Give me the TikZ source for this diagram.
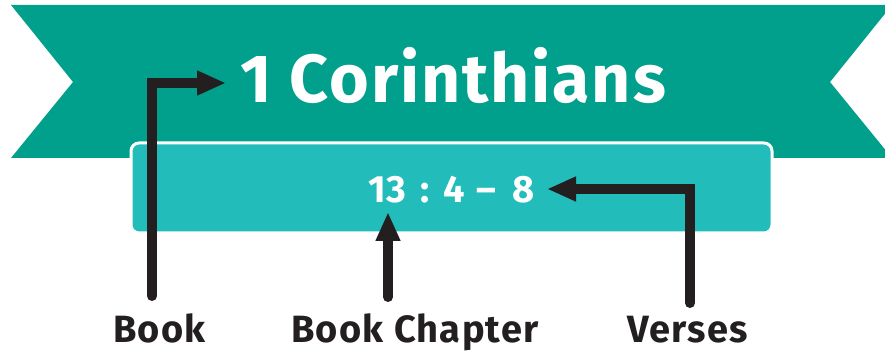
\documentclass[tikz,border=0pt]{standalone}
\usepackage{fontspec}
\setmainfont{Fira Sans}
\usetikzlibrary{arrows.meta}
\definecolor{bannerc}{RGB}{0,160,140}
\definecolor{boxc}{RGB}{34,189,187}
\definecolor{ink}{RGB}{35,31,32}
\tikzset{
  arr/.style={draw=ink, line width=10pt, -{Triangle[length=29pt,width=23pt]}},
  titletxt/.style={white, inner sep=0pt, anchor=base west, font=\bfseries\fontsize{68}{68}\selectfont\addfontfeatures{LetterSpace=2.8}},
  reftxt/.style={white, inner sep=0pt, anchor=base west, font=\bfseries\fontsize{38}{38}\selectfont\addfontfeatures{LetterSpace=2}},
  labeltxt/.style={ink, inner sep=0pt, anchor=base west, font=\bfseries\fontsize{38}{38}\selectfont\addfontfeatures{LetterSpace=3.3}}
}
\begin{document}
\begin{tikzpicture}[x=1pt,y=-1pt]
\useasboundingbox (0,0) rectangle (885,352);
\begin{scope}
\clip (0,0) rectangle (885,352);
\fill[bannerc] (11,5) -- (892,5) -- (830,82) -- (892,158) -- (11,158) -- (73,82) -- cycle;
\end{scope}
\draw[white, line width=3pt, fill=boxc, rounded corners=8pt] (131,143) rectangle (772,233);
\node[titletxt] (title) at (240,103) {1 Corinthians};
\node[reftxt] (ref) at (368,203) {13\hspace{14pt}:\hspace{14pt}4\hspace{12pt}–\hspace{16pt}8};
\node[labeltxt] (bookl) at (113,342) {Book};
\node[labeltxt] (chapl) at (291,342) {Book Chapter};
\node[labeltxt] (versl) at (627,342) {Verses};
\coordinate (bookstart) at (152,296);
\coordinate (booktip) at (226,83);
\coordinate (chapstart) at (388,297);
\coordinate (chaptip) at (388,212);
\coordinate (versstart) at (690,303);
\coordinate (verstip) at (547,189);
\draw[arr, line cap=round] (bookstart) |- (booktip);
\draw[arr, line cap=round] (chapstart) -- (chaptip);
\draw[arr, line cap=round] (versstart) |- (verstip);
\end{tikzpicture}
\end{document}
